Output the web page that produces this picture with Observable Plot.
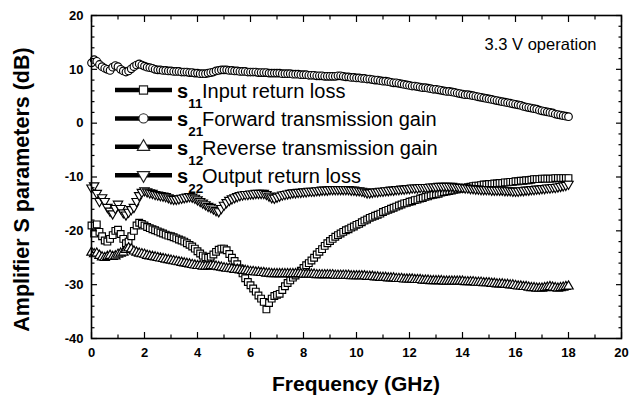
<!DOCTYPE html>
<html>
<head>
<meta charset="utf-8">
<script src="https://cdn.jsdelivr.net/npm/d3@7"></script>
<script src="https://cdn.jsdelivr.net/npm/@observablehq/plot@0.6"></script>
<style>
  html, body { margin: 0; padding: 0; background: #fff; }
  #chart svg { display: block; }
</style>
</head>
<body>
<div id="chart"></div>
<script>
// ---- data ----
const freq = [0,0.1,0.2,0.3,0.4,0.5,0.6,0.7,0.8,0.9,1,1.1,1.2,1.3,1.4,1.5,1.6,1.7,1.8,1.9,2,2.1,2.2,2.3,2.4,2.5,2.6,2.7,2.8,2.9,3,3.1,3.2,3.3,3.4,3.5,3.6,3.7,3.8,3.9,4,4.1,4.2,4.3,4.4,4.5,4.6,4.7,4.8,4.9,5,5.1,5.2,5.3,5.4,5.5,5.6,5.7,5.8,5.9,6,6.1,6.2,6.3,6.4,6.5,6.6,6.7,6.8,6.9,7,7.1,7.2,7.3,7.4,7.5,7.6,7.7,7.8,7.9,8,8.1,8.2,8.3,8.4,8.5,8.6,8.7,8.8,8.9,9,9.1,9.2,9.3,9.4,9.5,9.6,9.7,9.8,9.9,10,10.1,10.2,10.3,10.4,10.5,10.6,10.7,10.8,10.9,11,11.1,11.2,11.3,11.4,11.5,11.6,11.7,11.8,11.9,12,12.1,12.2,12.3,12.4,12.5,12.6,12.7,12.8,12.9,13,13.1,13.2,13.3,13.4,13.5,13.6,13.7,13.8,13.9,14,14.1,14.2,14.3,14.4,14.5,14.6,14.7,14.8,14.9,15,15.1,15.2,15.3,15.4,15.5,15.6,15.7,15.8,15.9,16,16.1,16.2,16.3,16.4,16.5,16.6,16.7,16.8,16.9,17,17.1,17.2,17.3,17.4,17.5,17.6,17.7,17.8,17.9,18];

const s11 = [-19.0,-20.5,-18.8,-20.2,-21.0,-21.8,-22.0,-21.5,-20.8,-20.0,
-19.8,-20.6,-21.5,-22.3,-22.0,-21.0,-20.0,-19.0,-18.5,-18.7,
-19.0,-19.3,-19.5,-19.7,-19.9,-20.1,-20.3,-20.5,-20.7,-20.9,
-21.0,-21.2,-21.4,-21.6,-21.8,-22.0,-22.3,-22.6,-22.9,-23.3,
-23.8,-24.2,-24.6,-24.9,-25.0,-24.8,-24.4,-23.9,-23.5,-23.3,
-23.3,-23.6,-24.3,-25.0,-25.6,-26.2,-27.0,-27.9,-28.8,-29.5,
-30.1,-30.7,-31.3,-32.0,-32.6,-33.2,-34.6,-33.4,-32.6,-32.1,
-31.9,-31.7,-31.0,-30.3,-29.7,-29.2,-28.7,-28.3,-27.9,-27.4,
-26.9,-26.4,-26.0,-25.5,-25.0,-24.4,-23.9,-23.4,-22.8,-22.3,
-21.9,-21.5,-21.1,-20.8,-20.5,-20.2,-19.9,-19.7,-19.4,-19.2,
-18.9,-18.7,-18.4,-18.1,-17.9,-17.6,-17.4,-17.2,-17.0,-16.8,
-16.5,-16.3,-16.1,-15.9,-15.7,-15.5,-15.3,-15.1,-14.9,-14.8,
-14.6,-14.5,-14.3,-14.2,-14.0,-13.9,-13.7,-13.6,-13.4,-13.3,
-13.2,-13.1,-12.9,-12.8,-12.7,-12.6,-12.5,-12.4,-12.3,-12.2,
-12.1,-12.0,-11.9,-11.8,-11.7,-11.6,-11.6,-11.5,-11.4,-11.4,
-11.3,-11.3,-11.2,-11.2,-11.1,-11.1,-11.0,-11.0,-10.9,-10.9,
-10.8,-10.8,-10.7,-10.7,-10.6,-10.6,-10.5,-10.4,-10.4,-10.4,
-10.3,-10.3,-10.3,-10.3,-10.3,-10.2,-10.2,-10.2,-10.2,-10.2,
-10.2];

const s21 = [11.2,11.8,11.5,10.9,10.5,10.2,10.0,9.8,10.4,10.7,
10.5,10.0,9.7,9.5,9.7,10.1,10.5,10.8,11.0,10.8,
10.6,10.4,10.3,10.2,10.0,9.9,9.9,9.8,9.8,9.7,
9.7,9.6,9.6,9.6,9.5,9.5,9.5,9.4,9.4,9.3,
9.3,9.2,9.2,9.2,9.3,9.4,9.5,9.7,9.8,9.9,
9.9,9.9,9.8,9.8,9.7,9.7,9.6,9.6,9.6,9.5,
9.5,9.5,9.5,9.4,9.4,9.4,9.4,9.3,9.3,9.3,
9.3,9.3,9.2,9.2,9.2,9.2,9.1,9.1,9.1,9.0,
9.0,9.0,8.9,8.9,8.9,8.8,8.8,8.8,8.7,8.7,
8.7,8.7,8.7,8.8,8.8,8.7,8.6,8.6,8.5,8.5,
8.4,8.4,8.3,8.3,8.2,8.2,8.1,8.0,8.0,7.9,
7.8,7.8,7.7,7.6,7.5,7.5,7.4,7.3,7.2,7.1,
7.0,6.9,6.9,6.8,6.7,6.6,6.6,6.5,6.4,6.3,
6.3,6.2,6.1,6.0,5.9,5.9,5.8,5.7,5.6,5.5,
5.4,5.3,5.3,5.2,5.1,5.0,4.9,4.8,4.7,4.6,
4.5,4.4,4.3,4.2,4.1,4.0,3.9,3.8,3.7,3.6,
3.5,3.4,3.3,3.1,3.0,2.9,2.8,2.7,2.6,2.4,
2.3,2.2,2.1,2.0,1.9,1.7,1.6,1.5,1.4,1.3,
1.2];

const s12 = [-24.0,-24.3,-24.2,-24.6,-24.9,-25.0,-24.8,-24.6,-24.8,-24.7,
-24.4,-24.2,-24.0,-23.5,-23.2,-23.4,-23.8,-24.0,-24.2,-24.3,
-24.4,-24.6,-24.7,-24.8,-24.9,-25.0,-25.1,-25.2,-25.3,-25.4,
-25.5,-25.6,-25.7,-25.8,-25.9,-26.0,-26.1,-26.2,-26.3,-26.4,
-26.5,-26.5,-26.6,-26.6,-26.6,-26.5,-26.5,-26.6,-26.7,-26.8,
-26.9,-27.0,-27.0,-27.1,-27.2,-27.2,-27.3,-27.4,-27.4,-27.5,
-27.6,-27.6,-27.7,-27.7,-27.8,-27.8,-27.9,-27.9,-28.0,-28.0,
-28.0,-28.0,-28.0,-28.0,-28.0,-28.0,-28.0,-28.0,-28.0,-28.0,
-28.1,-28.1,-28.1,-28.1,-28.1,-28.2,-28.2,-28.2,-28.2,-28.2,
-28.2,-28.2,-28.3,-28.3,-28.3,-28.3,-28.3,-28.3,-28.4,-28.4,
-28.4,-28.4,-28.4,-28.4,-28.5,-28.5,-28.5,-28.6,-28.6,-28.7,
-28.7,-28.7,-28.8,-28.8,-28.8,-28.9,-28.9,-28.9,-29.0,-29.0,
-29.0,-29.0,-29.1,-29.1,-29.1,-29.2,-29.2,-29.2,-29.3,-29.3,
-29.3,-29.3,-29.3,-29.4,-29.4,-29.4,-29.4,-29.4,-29.4,-29.4,
-29.4,-29.5,-29.5,-29.5,-29.5,-29.6,-29.6,-29.6,-29.7,-29.7,
-29.7,-29.8,-29.8,-29.9,-29.9,-29.9,-30.0,-30.0,-30.1,-30.1,
-30.2,-30.3,-30.3,-30.4,-30.4,-30.5,-30.6,-30.6,-30.7,-30.7,
-30.7,-30.6,-30.5,-30.4,-30.5,-30.6,-30.7,-30.6,-30.5,-30.4,
-30.3];

const s22 = [-12.0,-11.6,-13.0,-14.5,-13.8,-14.5,-15.6,-16.3,-16.8,-15.8,
-15.0,-15.8,-16.6,-17.0,-16.5,-16.0,-15.6,-14.5,-13.4,-12.8,
-12.5,-12.7,-12.9,-13.0,-13.2,-13.3,-13.4,-13.5,-13.6,-13.8,
-14.0,-14.1,-14.1,-14.0,-13.9,-13.8,-13.7,-13.6,-13.7,-13.9,
-14.2,-14.5,-14.8,-15.1,-15.4,-15.6,-15.9,-16.2,-16.4,-15.8,
-15.2,-14.7,-14.3,-14.0,-13.8,-13.6,-13.4,-13.3,-13.2,-13.2,
-13.1,-13.1,-13.0,-13.0,-13.0,-13.0,-13.2,-13.5,-13.8,-13.9,
-13.7,-13.5,-13.3,-13.2,-13.1,-13.0,-12.9,-12.9,-12.8,-12.8,
-12.7,-12.7,-12.6,-12.6,-12.6,-12.5,-12.5,-12.4,-12.4,-12.4,
-12.3,-12.3,-12.3,-12.3,-12.3,-12.3,-12.3,-12.3,-12.4,-12.4,
-12.5,-12.5,-12.6,-12.7,-12.9,-12.9,-12.8,-12.7,-12.7,-12.6,
-12.6,-12.5,-12.5,-12.4,-12.4,-12.3,-12.3,-12.2,-12.2,-12.1,
-12.1,-12.0,-12.0,-12.0,-11.9,-11.9,-11.9,-11.9,-11.8,-11.8,
-11.8,-11.7,-11.7,-11.7,-11.7,-11.7,-11.7,-11.8,-11.8,-11.9,
-11.9,-12.0,-12.0,-12.1,-12.1,-12.2,-12.2,-12.3,-12.3,-12.3,
-12.3,-12.4,-12.4,-12.4,-12.4,-12.4,-12.5,-12.5,-12.5,-12.6,
-12.6,-12.6,-12.5,-12.5,-12.4,-12.4,-12.3,-12.3,-12.2,-12.2,
-12.1,-12.1,-12.0,-12.0,-11.9,-11.9,-11.8,-11.7,-11.6,-11.5,
-11.3];

const xMajorTicks = [0, 2, 4, 6, 8, 10, 12, 14, 16, 18, 20];
const xMinorTicks = [1, 3, 5, 7, 9, 11, 13, 15, 17, 19];
const yMajorTicks = [-40, -30, -20, -10, 0, 10, 20];
const yMinorTicks = [-38, -36, -34, -32, -28, -26, -24, -22, -18, -16, -14, -12, -8, -6, -4, -2, 2, 4, 6, 8, 12, 14, 16, 18];

const seriesKeys = ["11", "21", "12", "22"];
const seriesLabels = ["Input return loss", "Forward transmission gain", "Reverse transmission gain", "Output return loss"];
const seriesValues = [s11, s21, s12, s22];
const annotation = "3.3 V operation";
const xTitle = "Frequency (GHz)";
const yTitle = "Amplifier S parameters (dB)";

// ---- symbols ----
const sqrt3 = Math.sqrt(3);
const symbolTriangleDown = {
  draw(context, size) {
    const y = -Math.sqrt(size / (sqrt3 * 3));
    context.moveTo(0, -y * 2);
    context.lineTo(-sqrt3 * y, y);
    context.lineTo(sqrt3 * y, y);
    context.closePath();
  }
};
const seriesSymbols = [d3.symbolSquare, d3.symbolCircle, d3.symbolTriangle, symbolTriangleDown];
const seriesR = [3.8, 3.8, 3.5, 3.5];

const FONT = "'Liberation Sans', Arial, Helvetica, sans-serif";
const blank = () => "";

const seriesMarks = seriesValues.flatMap((vals, k) => [
  Plot.line(vals, {x: (d, i) => freq[i], y: d => d, stroke: "#000", strokeWidth: 1.3}),
  Plot.dot(vals, {x: (d, i) => freq[i], y: d => d, symbol: seriesSymbols[k], r: seriesR[k],
    stroke: "#000", strokeWidth: 1.15, fill: "#fff"})
]);

const plot = Plot.plot({
  width: 630,
  height: 402,
  marginLeft: 91,
  marginRight: 9,
  marginTop: 15,
  marginBottom: 64,
  style: {fontFamily: FONT, background: "#fff", color: "#000", overflow: "visible"},
  x: {domain: [0, 20]},
  y: {domain: [-40, 20]},
  marks: [
    ...seriesMarks,
    // tick labels
    Plot.axisX(xMajorTicks, {anchor: "bottom", tickSize: 0, tickPadding: 9, fontSize: 13, fontWeight: "bold", label: null, tickFormat: d => String(d)}),
    Plot.axisY(yMajorTicks, {anchor: "left", tickSize: 0, tickPadding: 8, fontSize: 13, fontWeight: "bold", label: null, tickFormat: d => String(d)}),
    // inward ticks on all four sides
    Plot.axisX(xMajorTicks, {anchor: "bottom", tickSize: -6, tickFormat: blank, label: null, strokeWidth: 1.2}),
    Plot.axisX(xMinorTicks, {anchor: "bottom", tickSize: -3.5, tickFormat: blank, label: null, strokeWidth: 1.2}),
    Plot.axisX(xMajorTicks, {anchor: "top", tickSize: -6, tickFormat: blank, label: null, strokeWidth: 1.2}),
    Plot.axisX(xMinorTicks, {anchor: "top", tickSize: -3.5, tickFormat: blank, label: null, strokeWidth: 1.2}),
    Plot.axisY(yMajorTicks, {anchor: "left", tickSize: -6, tickFormat: blank, label: null, strokeWidth: 1.2}),
    Plot.axisY(yMinorTicks, {anchor: "left", tickSize: -3.5, tickFormat: blank, label: null, strokeWidth: 1.2}),
    Plot.axisY(yMajorTicks, {anchor: "right", tickSize: -6, tickFormat: blank, label: null, strokeWidth: 1.2}),
    Plot.axisY(yMinorTicks, {anchor: "right", tickSize: -3.5, tickFormat: blank, label: null, strokeWidth: 1.2}),
    Plot.frame({stroke: "#000", strokeWidth: 1.6}),
    Plot.text([annotation], {frameAnchor: "top-right", dx: -25, dy: 29, text: d => d, fontSize: 16.5, textAnchor: "end", lineAnchor: "middle", fill: "#000"})
  ]
});

document.getElementById("chart").appendChild(plot);

// ---- legend, axis titles (added into the same SVG) ----
const svg = d3.select(plot);
const xs = plot.scale("x"), ys = plot.scale("y");
const frameLeft = xs.range[0], frameRight = xs.range[1];
const frameTop = ys.range[1], frameBottom = ys.range[0];

const lg = svg.append("g").attr("font-family", FONT).attr("fill", "#000").attr("text-anchor", "start");
seriesKeys.forEach((key, k) => {
  const cy = frameTop + 75 + k * 28.4;
  const x0 = frameLeft + 24, x1 = frameLeft + 81;
  lg.append("line").attr("x1", x0).attr("x2", x1).attr("y1", cy).attr("y2", cy)
    .attr("stroke", "#000").attr("stroke-width", 4.5);
  lg.append("path").attr("transform", `translate(${(x0 + x1) / 2},${cy})`)
    .attr("d", d3.symbol(seriesSymbols[k], Math.PI * 4.6 * 4.6)())
    .attr("fill", "#fff").attr("stroke", "#222").attr("stroke-width", 1.1);
  const t = lg.append("text").attr("x", frameLeft + 86).attr("y", cy + 8)
    .attr("font-size", 20).attr("text-anchor", "start");
  t.append("tspan").attr("font-weight", "bold").text("s");
  t.append("tspan").attr("font-weight", "bold").attr("font-size", 13.5).attr("dy", 10).text(key);
  t.append("tspan").attr("x", frameLeft + 111).attr("dy", -10).text(seriesLabels[k]);
});

svg.append("text")
  .attr("x", (frameLeft + frameRight) / 2).attr("y", 391)
  .attr("text-anchor", "middle").attr("font-family", FONT)
  .attr("font-size", 21).attr("font-weight", "bold").attr("fill", "#000")
  .text(xTitle);

svg.append("text")
  .attr("transform", `translate(29,${(frameTop + frameBottom) / 2 + 13}) rotate(-90)`)
  .attr("text-anchor", "middle").attr("font-family", FONT)
  .attr("font-size", 21.5).attr("font-weight", "bold").attr("fill", "#000")
  .text(yTitle);
</script>
</body>
</html>
